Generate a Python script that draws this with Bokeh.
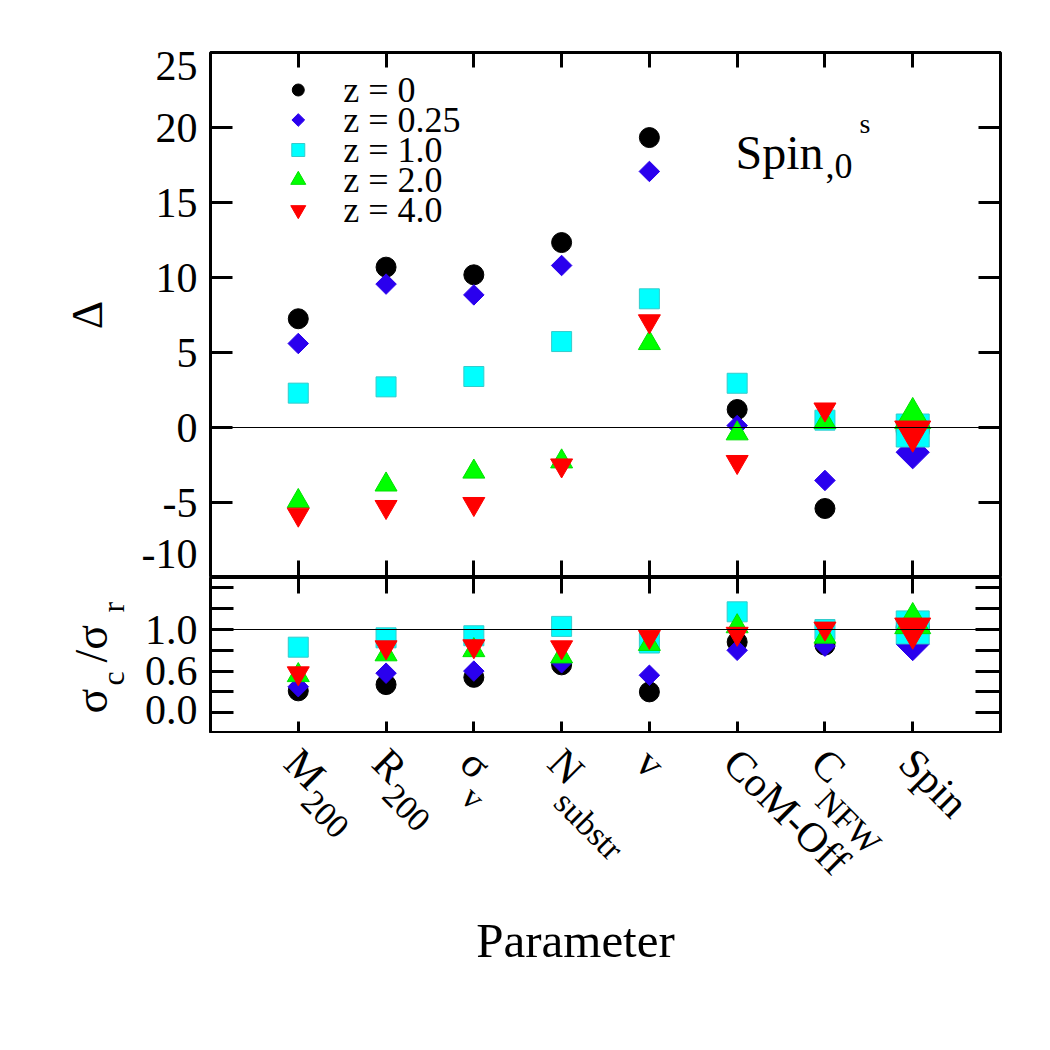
import math
import numpy as np
from bokeh.plotting import figure
from bokeh.layouts import column, row
from bokeh.models import Range1d, LinearAxis, FixedTicker, Span, Label, ColumnDataSource
from bokeh.core.properties import value
from bokeh.embed import file_html
from bokeh.resources import INLINE

FONT = "Liberation Serif"

# ---- data -------------------------------------------------------------
parameters = ["M200", "R200", "sigma_v", "N_substr", "v", "CoM-Off", "C_NFW", "Spin"]
label_main = ["M", "R", "σ", "N", "v", "CoM-Off", "C", "Spin"]
label_sub = ["200", "200", "v", "substr", "", "", "NFW", ""]
redshift_labels = ["z = 0", "z = 0.25", "z = 1.0", "z = 2.0", "z = 4.0"]

# Delta per parameter, one list per redshift
delta_z0 = [7.25, 10.69, 10.18, 12.33, 19.33, 1.20, -5.40, -0.20]
delta_z025 = [5.60, 9.56, 8.84, 10.80, 17.07, 0.13, -3.53, -1.65]
delta_z1 = [2.29, 2.71, 3.40, 5.73, 8.58, 2.95, 0.49, -0.20]
delta_z2 = [-4.91, -3.81, -2.95, -2.27, 5.62, -0.40, 0.36, 0.62]
delta_z4 = [-5.80, -5.29, -5.09, -2.52, 7.09, -2.29, 1.21, -0.26]

# sigma_c / sigma_r per parameter, one list per redshift
ratio_z0 = [0.41, 0.47, 0.54, 0.66, 0.40, 0.88, 0.85, 1.02]
ratio_z025 = [0.45, 0.58, 0.60, 0.68, 0.56, 0.80, 0.84, 0.86]
ratio_z1 = [0.83, 0.92, 0.94, 1.03, 0.87, 1.17, 1.00, 1.02]
ratio_z2 = [0.56, 0.76, 0.80, 0.74, 0.86, 1.03, 0.93, 1.06]
ratio_z4 = [0.58, 0.83, 0.84, 0.83, 0.93, 0.96, 1.01, 1.01]

delta_ticks = [-10, -5, 0, 5, 10, 15, 20, 25]
ratio_ticks = [0.0, 0.2, 0.4, 0.6, 0.8, 1.0, 1.2, 1.4]
ratio_labelled = [0.0, 0.6, 1.0]

DELTA_RANGE = (-10, 25)
RATIO_RANGE = (0.0, 1.5)
highlight = "Spin"

# ---- styles -----------------------------------------------------------
deltas = [delta_z0, delta_z025, delta_z1, delta_z2, delta_z4]
ratios = [ratio_z0, ratio_z025, ratio_z1, ratio_z2, ratio_z4]
styles = [
    dict(marker="circle", fill="#000000", line="#000000", size=20, big=33, angle=0.0, leg=12),
    dict(marker="square", fill="#2a00ee", line="#2a00ee", size=14.5, big=23.5, angle=math.pi / 4, leg=9),
    dict(marker="square", fill="#00ffff", line="#33cccc", size=20, big=33, angle=0.0, leg=13),
    dict(marker="triangle", fill="#00ff00", line="#00e000", size=22, big=36, angle=0.0, leg=15),
    dict(marker="inverted_triangle", fill="#ff0000", line="#ff0000", size=22, big=36, angle=0.0, leg=15),
]

xpos = np.arange(1, len(parameters) + 1)
is_big = np.array([p == highlight for p in parameters])
X_RANGE = (0, len(parameters) + 1)

FRAME_W = 790
LEFT = 210
RIGHT = 50
TOP_H = 525
BOT_H = 156
SIDE_W = 130      # width of the strip holding the lower y title
TICK_FS = "42px"
EDGE_NUDGE = 24   # px by which the numbers at the frame edges sit inside the frame


def make_fig(y_range, frame_h, top=0, bottom=0, left=LEFT):
    return figure(frame_width=FRAME_W, frame_height=frame_h,
                  x_range=Range1d(*X_RANGE), y_range=Range1d(*y_range),
                  x_axis_type=None, y_axis_type=None,
                  min_border_left=left, min_border_right=RIGHT,
                  min_border_top=top, min_border_bottom=bottom,
                  output_backend="svg", toolbar_location=None,
                  outline_line_color="black", outline_line_width=3,
                  background_fill_color="white", border_fill_color="white")


def tick_axis(p, side, ticks, tick_in):
    """Axis that draws inward tick marks only."""
    ax = LinearAxis(ticker=FixedTicker(ticks=ticks, minor_ticks=[]),
                    major_tick_in=tick_in, major_tick_out=0,
                    minor_tick_in=0, minor_tick_out=0,
                    axis_line_color=None,
                    major_tick_line_color="black", major_tick_line_width=3,
                    major_label_overrides={t: "" for t in ticks},
                    major_label_text_font_size="0px", major_label_standoff=0)
    p.add_layout(ax, side)
    return ax


def label_axis(p, positions, texts, **kw):
    """Left axis that only carries the numbers (no tick marks)."""
    ax = LinearAxis(ticker=FixedTicker(ticks=positions, minor_ticks=[]),
                    major_tick_in=0, major_tick_out=0,
                    minor_tick_in=0, minor_tick_out=0,
                    axis_line_color=None, major_tick_line_color=None,
                    major_label_overrides=dict(zip(positions, texts)),
                    major_label_text_font=FONT, major_label_text_font_size=TICK_FS,
                    major_label_text_color="black", major_label_standoff=13, **kw)
    p.add_layout(ax, "left")
    return ax


def plot_series(p, values_list):
    for vals, st in zip(values_list, styles):
        sizes = np.where(is_big, st["big"], st["size"])
        src = ColumnDataSource(dict(x=xpos, y=vals, size=sizes))
        p.scatter(x="x", y="y", source=src, marker=st["marker"], size="size",
                  angle=st["angle"], fill_color=st["fill"], line_color=st["line"],
                  line_width=1)


# ---- top panel: Delta -------------------------------------------------
p1 = make_fig(DELTA_RANGE, TOP_H, top=52)
tick_axis(p1, "left", delta_ticks, 22)
px_per_unit = TOP_H / (DELTA_RANGE[1] - DELTA_RANGE[0])
delta_label_pos = [t for t in delta_ticks]
delta_label_pos[0] = DELTA_RANGE[0] + EDGE_NUDGE / px_per_unit
delta_label_pos[-1] = DELTA_RANGE[1] - 13 / px_per_unit
label_axis(p1, delta_label_pos, [str(t) for t in delta_ticks],
           axis_label="Δ", axis_label_text_font=FONT, axis_label_text_font_size="44px",
           axis_label_text_font_style="normal", axis_label_text_color="black",
           axis_label_standoff=27)
tick_axis(p1, "right", delta_ticks, 22)
tick_axis(p1, "above", list(xpos), 15)
tick_axis(p1, "below", list(xpos), 17)

p1.add_layout(Span(location=0, dimension="width", line_color="black", line_width=1))
plot_series(p1, deltas)

# legend rows: marker at the first parameter column, text to its right
leg_y = [DELTA_RANGE[1] - 2.5 - 2.0 * i for i in range(len(redshift_labels))]
for yy, st in zip(leg_y, styles):
    p1.scatter(x=[xpos[0]], y=[yy], marker=st["marker"], size=st["leg"], angle=st["angle"],
               fill_color=st["fill"], line_color=st["line"])
p1.text(x=[xpos[0]] * len(redshift_labels), y=leg_y, text=redshift_labels, x_offset=45,
        text_baseline="middle", text_align="left", text_font=value(FONT),
        text_font_size=value("36px"), text_color="black")

# panel title: Spin_{,0}^{s}
for txt, sx, sy, fs in [("Spin", 525, 425, 48), (",0", 615, 412, 36), ("s", 649, 454, 28)]:
    p1.add_layout(Label(x=sx, y=sy, x_units="screen", y_units="screen", text=txt,
                        text_font=FONT, text_font_size=f"{fs}px",
                        text_baseline="alphabetic", text_color="black"))

# ---- bottom panel: sigma_c / sigma_r ----------------------------------
p2 = make_fig(RATIO_RANGE, BOT_H, left=LEFT - SIDE_W)
tick_axis(p2, "left", ratio_ticks, 23)
ratio_px = BOT_H / (RATIO_RANGE[1] - RATIO_RANGE[0])
ratio_label_pos = [r if r != RATIO_RANGE[0] else RATIO_RANGE[0] + EDGE_NUDGE / ratio_px
                   for r in ratio_labelled]
label_axis(p2, ratio_label_pos, [f"{r:.1f}" for r in ratio_labelled])
tick_axis(p2, "right", ratio_ticks, 25)
tick_axis(p2, "above", list(xpos), 16)
tick_axis(p2, "below", list(xpos), 12)

p2.add_layout(Span(location=1.0, dimension="width", line_color="black", line_width=1))
plot_series(p2, ratios)

# strip left of the lower panel with the rotated title sigma_c / sigma_r
side = figure(frame_width=SIDE_W, frame_height=BOT_H,
              x_range=Range1d(0, SIDE_W), y_range=Range1d(0, BOT_H),
              x_axis_type=None, y_axis_type=None, min_border=0,
              output_backend="svg", toolbar_location=None, outline_line_color=None,
              background_fill_color="white", border_fill_color="white")
title_parts = ["σ", "c", "/σ", "r"]
title_px = [(91, 20, "46px"), (112, 48, "32px"), (91, 71, "46px"), (112, 121, "32px")]
for txt, (tx, ty, fs) in zip(title_parts, title_px):
    side.text(x=[tx], y=[ty], text=[txt], angle=math.pi / 2, text_align="left",
              text_baseline="alphabetic", text_font=value(FONT),
              text_font_size=value(fs), text_color="black")

# ---- strip below with the rotated parameter names ---------------------
NAMES_H = 260
names = figure(frame_width=FRAME_W, frame_height=NAMES_H,
               x_range=Range1d(*X_RANGE), y_range=Range1d(-NAMES_H, 0),
               x_axis_type=None, y_axis_type=None,
               min_border_left=LEFT, min_border_right=RIGHT,
               min_border_top=0, min_border_bottom=0,
               output_backend="svg", toolbar_location=None, outline_line_color=None,
               background_fill_color="white", border_fill_color="white")

MAIN_FS, SUB_FS = 42, 34
advance = {"M": 0.889, "R": 0.667, "σ": 0.55, "N": 0.722, "C": 0.667}
BASE_DX, BASE_DY = 10, -6
SUB_DROP = 30
s2 = math.sqrt(0.5)

for xi, main, sub in zip(xpos, label_main, label_sub):
    names.text(x=[xi], y=[BASE_DY], text=[main], angle=-math.pi / 4, x_offset=BASE_DX,
               text_align="left", text_baseline="top", text_font=value(FONT),
               text_font_size=value(f"{MAIN_FS}px"), text_color="black")
    if sub:
        along = advance[main] * MAIN_FS + 2
        names.text(x=[xi], y=[BASE_DY - (along + SUB_DROP) * s2], text=[sub],
                   angle=-math.pi / 4, x_offset=BASE_DX + (along - SUB_DROP) * s2,
                   text_align="left", text_baseline="top", text_font=value(FONT),
                   text_font_size=value(f"{SUB_FS}px"), text_color="black")

names.text(x=[sum(X_RANGE) / 2], y=[-207], text=["Parameter"], x_offset=-30,
           text_align="center", text_baseline="middle", text_font=value(FONT),
           text_font_size=value("49px"), text_color="black")

layout = column(p1, row(side, p2, spacing=0), names, spacing=0)
open("out.html", "w").write(file_html(layout, INLINE))
